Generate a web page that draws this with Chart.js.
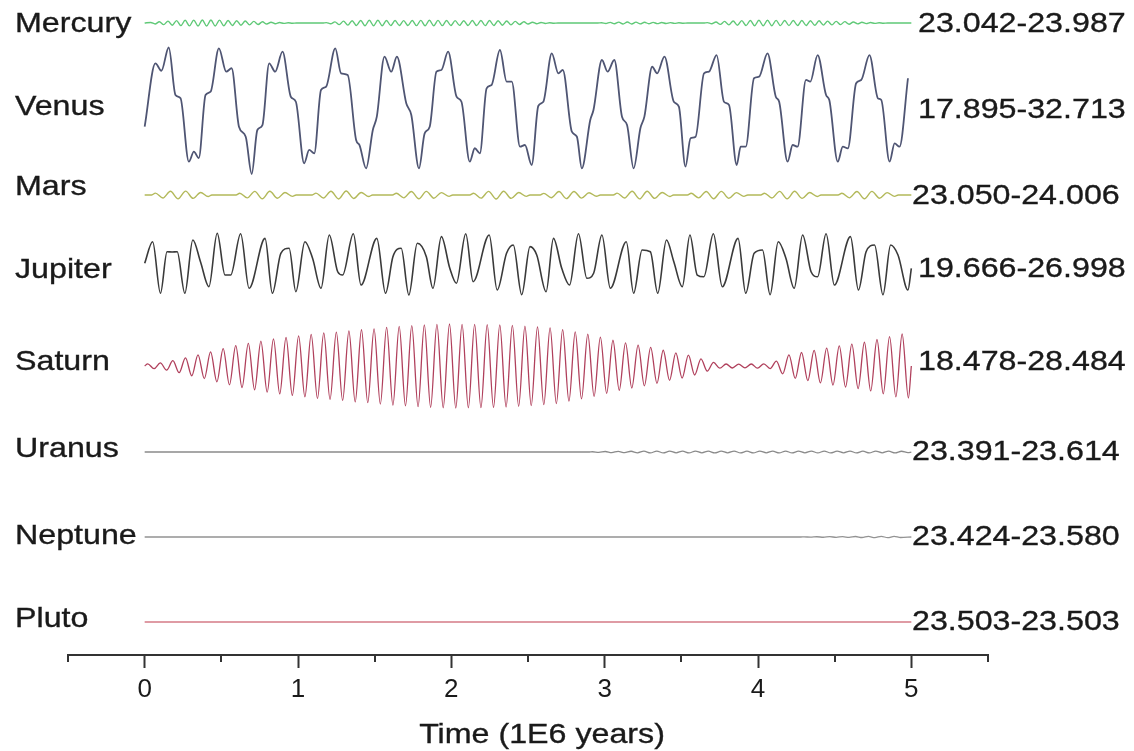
<!DOCTYPE html>
<html lang="en">
<head>
<meta charset="UTF-8">
<title>Obliquity of the planets over 5 Myr</title>
<script src="https://cdn.jsdelivr.net/npm/chart.js"></script>
<style>
  html, body { margin: 0; padding: 0; background: #ffffff; }
  #grafico { display: block; }
</style>
</head>
<body>
<canvas id="grafico" width="1134" height="751"></canvas>
<script>
// obliquity series, time in Myr, obliquity in degrees
const planets = ["Mercury", "Venus", "Mars", "Jupiter", "Saturn", "Uranus", "Neptune", "Pluto"];

const mercuryTime = [0,
  0.040, 0.068, 0.096, 0.124, 0.152, 0.180, 0.208, 0.236, 0.264, 0.292,
  0.320, 0.348, 0.376, 0.404, 0.432, 0.460, 0.488, 0.516, 0.544, 0.572,
  0.600, 0.628, 0.656, 0.684, 0.712, 0.740, 0.768, 0.796, 0.824, 0.852,
  0.880, 0.908, 0.936, 0.964,
  0.990, 1.160,
  1.185, 1.213, 1.241, 1.269, 1.297, 1.325, 1.353, 1.381, 1.409, 1.437,
  1.465, 1.493, 1.521, 1.549, 1.577, 1.605, 1.633, 1.661, 1.689, 1.717,
  1.745, 1.773, 1.801, 1.829, 1.857, 1.885, 1.913, 1.941, 1.969, 1.997,
  2.025, 2.053, 2.081, 2.109, 2.137, 2.165, 2.193, 2.221, 2.249, 2.277,
  2.305, 2.333, 2.361, 2.389, 2.417, 2.445, 2.473, 2.501, 2.529, 2.557,
  2.585, 2.613, 2.641, 2.669,
  2.695, 2.955,
  2.980, 3.008, 3.036, 3.064, 3.092, 3.120, 3.148, 3.176, 3.204, 3.232,
  3.260, 3.288, 3.316, 3.344, 3.372, 3.400, 3.428, 3.456, 3.484, 3.512,
  3.540, 3.645,
  3.670, 3.698, 3.726, 3.754, 3.782, 3.810, 3.838, 3.866, 3.894, 3.922,
  3.950, 3.978, 4.006, 4.034, 4.062, 4.090, 4.118, 4.146, 4.174, 4.202,
  4.230, 4.258, 4.286, 4.314, 4.342, 4.370, 4.398, 4.426, 4.454, 4.482,
  4.510, 4.538, 4.566, 4.594, 4.622, 4.650, 4.678, 4.706, 4.734, 4.762,
  4.790, 4.818,
  4.845, 5.0];
const mercuryObl = [23.51,
  23.59, 23.37, 23.71, 23.26, 23.81, 23.17, 23.88, 23.11, 23.93, 23.07,
  23.96, 23.05, 23.987, 23.042, 23.97, 23.06, 23.95, 23.09, 23.91, 23.13,
  23.87, 23.17, 23.82, 23.23, 23.76, 23.29, 23.70, 23.35, 23.64, 23.40,
  23.59, 23.45, 23.55, 23.48,
  23.51, 23.51,
  23.57, 23.39, 23.69, 23.27, 23.80, 23.18, 23.87, 23.13, 23.91, 23.10,
  23.93, 23.09, 23.93, 23.10, 23.91, 23.12, 23.89, 23.14, 23.88, 23.13,
  23.90, 23.11, 23.92, 23.09, 23.93, 23.09, 23.92, 23.11, 23.90, 23.13,
  23.88, 23.15, 23.87, 23.14, 23.89, 23.12, 23.91, 23.11, 23.90, 23.13,
  23.87, 23.17, 23.82, 23.23, 23.76, 23.29, 23.70, 23.35, 23.64, 23.40,
  23.60, 23.44, 23.56, 23.48,
  23.51, 23.51,
  23.55, 23.44, 23.61, 23.39, 23.65, 23.36, 23.66, 23.36, 23.65, 23.38,
  23.63, 23.40, 23.61, 23.42, 23.59, 23.44, 23.57, 23.46, 23.55, 23.48,
  23.51, 23.51,
  23.57, 23.40, 23.67, 23.30, 23.76, 23.22, 23.83, 23.16, 23.88, 23.12,
  23.91, 23.10, 23.93, 23.09, 23.93, 23.10, 23.92, 23.11, 23.91, 23.12,
  23.90, 23.13, 23.89, 23.14, 23.87, 23.16, 23.85, 23.19, 23.81, 23.23,
  23.77, 23.27, 23.72, 23.33, 23.67, 23.38, 23.62, 23.42, 23.58, 23.46,
  23.55, 23.48,
  23.51, 23.51];

const venusTime = [0, 0.070, 0.109, 0.157, 0.201, 0.234, 0.288, 0.321, 0.353, 0.397,
  0.430, 0.484, 0.532, 0.567, 0.615, 0.659, 0.698, 0.735, 0.768, 0.812,
  0.851, 0.899, 0.953, 0.986, 1.040, 1.073, 1.106, 1.150, 1.183, 1.243,
  1.281, 1.324, 1.379, 1.401, 1.444, 1.488, 1.514, 1.564, 1.608, 1.645,
  1.706, 1.739, 1.789, 1.826, 1.859, 1.903, 1.935, 1.979, 2.034, 2.066,
  2.120, 2.153, 2.186, 2.230, 2.262, 2.317, 2.361, 2.394, 2.448, 2.480,
  2.524, 2.567, 2.600, 2.655, 2.698, 2.727, 2.786, 2.819, 2.851, 2.906,
  2.927, 2.982, 3.019, 3.063, 3.113, 3.146, 3.189, 3.233, 3.259, 3.310,
  3.342, 3.390, 3.451, 3.484, 3.527, 3.560, 3.593, 3.648, 3.680, 3.730,
  3.778, 3.811, 3.861, 3.887, 3.920, 3.974, 4.007, 4.062, 4.116, 4.138,
  4.193, 4.226, 4.258, 4.313, 4.341, 4.389, 4.444, 4.465, 4.520, 4.553,
  4.586, 4.640, 4.673, 4.727, 4.782, 4.804, 4.858, 4.891, 4.923, 4.978];
const venusObl = [23.44, 30.86, 29.99, 32.713, 27.15, 26.76, 19.34, 20.51, 19.77, 27.15,
  27.54, 32.62, 29.88, 30.28, 23.44, 22.26, 17.895, 23.05, 23.63, 30.86,
  29.88, 32.22, 26.95, 26.36, 19.15, 20.71, 20.32, 27.73, 28.12, 32.62,
  29.69, 29.49, 21.88, 21.29, 18.56, 23.05, 24.61, 31.64, 29.88, 31.64,
  26.18, 24.81, 18.56, 22.66, 23.44, 29.88, 30.08, 32.22, 26.95, 26.36,
  19.34, 20.91, 20.32, 27.93, 28.32, 32.42, 28.71, 28.71, 21.09, 21.29,
  18.95, 25.86, 26.36, 32.03, 29.69, 30.08, 22.85, 22.26, 18.56, 24.22,
  25.39, 31.25, 29.88, 31.25, 24.61, 23.63, 18.56, 23.25, 24.61, 30.46,
  29.69, 31.64, 26.36, 25.78, 18.75, 22.08, 22.26, 29.69, 29.88, 31.83,
  26.36, 25.98, 18.95, 21.09, 21.09, 29.11, 29.29, 32.03, 26.95, 26.36,
  19.34, 21.29, 21.09, 28.91, 28.71, 31.83, 27.15, 26.56, 19.34, 21.09,
  20.90, 28.52, 28.91, 31.83, 26.76, 26.56, 19.34, 21.49, 21.09, 29.11];

const marsTime = [0,
  0.046, 0.070, 0.119, 0.168, 0.218, 0.267, 0.316, 0.365, 0.414, 0.438,
  0.596, 0.620, 0.669, 0.718, 0.767, 0.816, 0.866, 0.915, 0.964, 0.988,
  1.093, 1.117, 1.166, 1.215, 1.265, 1.314, 1.363, 1.412, 1.461, 1.486,
  1.616, 1.641, 1.690, 1.739, 1.788, 1.837, 1.886, 1.935, 1.985, 2.009,
  2.120, 2.145, 2.194, 2.243, 2.292, 2.341, 2.390, 2.440, 2.489, 2.513,
  2.579, 2.603, 2.652, 2.702, 2.751, 2.800, 2.849, 2.898, 2.947, 2.972,
  3.056, 3.081, 3.130, 3.179, 3.228, 3.277, 3.326, 3.375, 3.425, 3.449,
  3.540, 3.564, 3.613, 3.662, 3.711, 3.761, 3.810, 3.859, 3.908, 3.933,
  4.018, 4.042, 4.091, 4.141, 4.190, 4.239, 4.288, 4.337, 4.386, 4.411,
  4.522, 4.547, 4.596, 4.645, 4.694, 4.743, 4.792, 4.842, 4.891, 4.915,
  5.0];
const marsObl = [23.53,
  23.53, 23.75, 23.17, 23.97, 23.07, 23.99, 23.13, 23.83, 23.35, 23.53,
  23.53, 23.74, 23.18, 23.96, 23.08, 23.97, 23.14, 23.82, 23.36, 23.53,
  23.53, 23.75, 23.17, 23.97, 23.06, 24.006, 23.12, 23.83, 23.35, 23.53,
  23.53, 23.73, 23.19, 23.95, 23.09, 23.96, 23.15, 23.81, 23.37, 23.53,
  23.53, 23.74, 23.16, 23.96, 23.050, 23.98, 23.13, 23.82, 23.36, 23.53,
  23.53, 23.72, 23.20, 23.94, 23.10, 23.95, 23.16, 23.80, 23.38, 23.53,
  23.53, 23.75, 23.17, 23.97, 23.07, 23.98, 23.13, 23.83, 23.35, 23.53,
  23.53, 23.73, 23.18, 23.95, 23.09, 23.96, 23.14, 23.81, 23.36, 23.53,
  23.53, 23.74, 23.17, 23.96, 23.08, 23.97, 23.13, 23.82, 23.35, 23.53,
  23.53, 23.73, 23.19, 23.95, 23.09, 23.96, 23.15, 23.81, 23.37, 23.53,
  23.53];

const jupiterTime = [0, 0.052, 0.103, 0.146, 0.179, 0.212, 0.262, 0.314, 0.364, 0.419,
  0.473, 0.524, 0.561, 0.626, 0.681, 0.785, 0.833, 0.888, 0.942, 0.986,
  1.045, 1.095, 1.150, 1.204, 1.259, 1.291, 1.361, 1.411, 1.514, 1.571,
  1.619, 1.673, 1.723, 1.778, 1.837, 1.880, 1.935, 1.990, 2.033, 2.094,
  2.142, 2.247, 2.299, 2.360, 2.404, 2.459, 2.513, 2.557, 2.618, 2.666,
  2.720, 2.771, 2.829, 2.884, 2.928, 2.982, 3.037, 3.141, 3.189, 3.244,
  3.298, 3.346, 3.403, 3.451, 3.506, 3.556, 3.604, 3.647, 3.709, 3.767,
  3.870, 3.920, 3.975, 4.029, 4.079, 4.132, 4.182, 4.236, 4.291, 4.346,
  4.389, 4.444, 4.498, 4.603, 4.655, 4.705, 4.760, 4.815, 4.865, 4.913,
  4.978, 5.0];
const jupiterObl = [23.43, 26.00, 19.87, 24.81, 24.77, 24.81, 19.87, 26.20, 23.62, 20.65,
  26.998, 22.04, 22.04, 26.95, 20.46, 26.40, 19.87, 24.62, 25.22, 20.06,
  26.00, 24.03, 20.46, 26.80, 22.43, 22.04, 26.95, 20.85, 26.40, 19.87,
  24.22, 25.22, 19.666, 25.81, 24.22, 20.46, 26.60, 22.84, 21.06, 26.95,
  21.25, 26.80, 20.26, 24.62, 25.61, 19.70, 25.41, 24.42, 20.06, 26.40,
  22.84, 20.85, 26.95, 21.65, 22.25, 26.80, 20.46, 26.00, 19.87, 25.01,
  24.81, 19.87, 26.20, 23.62, 20.65, 26.80, 22.04, 21.84, 26.95, 20.65,
  26.40, 19.87, 24.62, 25.01, 19.70, 26.00, 24.03, 20.46, 26.80, 22.43,
  21.84, 26.95, 20.85, 26.60, 20.26, 24.81, 25.61, 19.70, 25.61, 24.42,
  20.26, 22.84];

const saturnTime = [0,
  0.020, 0.061, 0.102, 0.143, 0.184, 0.225, 0.266, 0.307, 0.348, 0.389,
  0.430, 0.471, 0.512, 0.553, 0.594, 0.635, 0.676, 0.717, 0.758, 0.799,
  0.840, 0.881, 0.922, 0.963, 1.004, 1.045, 1.086, 1.127, 1.168, 1.209,
  1.250, 1.291, 1.332, 1.373, 1.414, 1.455, 1.496, 1.537, 1.578, 1.619,
  1.660, 1.701, 1.742, 1.783, 1.824, 1.865, 1.906, 1.947, 1.988, 2.029,
  2.070, 2.111, 2.152, 2.193, 2.234, 2.275, 2.316, 2.357, 2.398, 2.439,
  2.480, 2.521, 2.562, 2.603, 2.644, 2.685, 2.726, 2.767, 2.808, 2.849,
  2.890, 2.931, 2.972, 3.013, 3.054, 3.095, 3.136, 3.177, 3.218, 3.259,
  3.300, 3.341, 3.382, 3.423, 3.464, 3.505, 3.546, 3.587, 3.628, 3.669,
  3.710, 3.751, 3.792, 3.833, 3.874, 3.915, 3.956, 3.997, 4.038, 4.079,
  4.120, 4.161, 4.202, 4.243, 4.284, 4.325, 4.366, 4.407, 4.448, 4.489,
  4.530, 4.571, 4.612, 4.653, 4.694, 4.735, 4.776, 4.817, 4.858, 4.899,
  4.940, 4.981,
  5.0];
const saturnObl = [23.48,
  23.74, 23.16, 23.85, 22.99, 24.11, 22.68, 24.46, 22.32, 24.81, 21.98,
  25.16, 21.60, 25.54, 21.24, 25.90, 20.92, 26.17, 20.65, 26.45, 20.37,
  26.72, 20.16, 26.89, 19.98, 27.07, 19.81, 27.24, 19.62, 27.42, 19.50,
  27.51, 19.38, 27.66, 19.20, 27.80, 19.11, 27.90, 18.95, 28.09, 18.81,
  28.20, 18.73, 28.28, 18.63, 28.38, 18.56, 28.44, 18.51, 28.484, 18.478,
  28.45, 18.51, 28.45, 18.52, 28.42, 18.55, 28.39, 18.60, 28.32, 18.68,
  28.23, 18.77, 28.15, 18.87, 28.03, 19.01, 27.82, 19.29, 27.54, 19.56,
  27.28, 19.86, 26.92, 20.23, 26.55, 20.59, 26.23, 20.86, 25.97, 21.12,
  25.71, 21.42, 25.36, 21.78, 25.05, 22.05, 24.77, 22.41, 24.33, 22.86,
  23.91, 23.22, 23.72, 23.24, 23.70, 23.26, 23.72, 23.22, 23.74, 23.18,
  24.06, 22.55, 24.81, 22.00, 25.09, 21.74, 25.35, 21.47, 25.61, 21.22,
  25.87, 20.98, 26.08, 20.79, 26.31, 20.51, 26.64, 20.17, 26.97, 19.81,
  27.29, 19.67,
  23.48];

const uranusTime = [0, 2.900,
  2.920, 2.962, 3.004, 3.046, 3.088, 3.130, 3.172, 3.214, 3.256, 3.298,
  3.340, 3.382, 3.424, 3.466, 3.508, 3.550, 3.592, 3.634, 3.676, 3.718,
  3.760, 3.802, 3.844, 3.886, 3.928, 3.970, 4.012, 4.054, 4.096, 4.138,
  4.180, 4.222, 4.264, 4.306, 4.348, 4.390, 4.432, 4.474, 4.516, 4.558,
  4.600, 4.642, 4.684, 4.726, 4.768, 4.810, 4.852, 4.894, 4.936, 4.978,
  5.0];
const uranusObl = [23.50, 23.50,
  23.53, 23.45, 23.56, 23.43, 23.58, 23.42, 23.59, 23.41, 23.60, 23.40,
  23.61, 23.40, 23.60, 23.41, 23.60, 23.40, 23.61, 23.41, 23.60, 23.40,
  23.60, 23.41, 23.61, 23.40, 23.60, 23.40, 23.61, 23.41, 23.60, 23.40,
  23.61, 23.40, 23.60, 23.41, 23.614, 23.391, 23.61, 23.40, 23.60, 23.41,
  23.61, 23.40, 23.60, 23.40, 23.61, 23.41, 23.60, 23.40, 23.59, 23.42,
  23.50];

const neptuneTime = [0, 4.280,
  4.300, 4.342, 4.384, 4.426, 4.468, 4.510, 4.552, 4.594, 4.636, 4.678,
  4.720, 4.762, 4.804, 4.846, 4.888, 4.930,
  5.0];
const neptuneObl = [23.50, 23.50,
  23.52, 23.48, 23.53, 23.47, 23.54, 23.46, 23.55, 23.45, 23.56, 23.44,
  23.57, 23.43, 23.580, 23.424, 23.57, 23.44,
  23.50];

const plutoTime = [0, 5.0];
const plutoObl  = [23.503, 23.503];

const seriesTime = [mercuryTime, venusTime, marsTime, jupiterTime, saturnTime, uranusTime, neptuneTime, plutoTime];
const seriesObl  = [mercuryObl, venusObl, marsObl, jupiterObl, saturnObl, uranusObl, neptuneObl, plutoObl];

const xTicks = [0, 1, 2, 3, 4, 5];
const xMinorTicks = [-0.5, 0.5, 1.5, 2.5, 3.5, 4.5, 5.5];
const axisTitle = "Time (1E6 years)";

// layout: each planet gets its own hidden y axis placed at a row of the plot
const plotHeight = 655;
const rowCenter = [23, 110.75, 195, 264.15, 366, 452, 537, 622];
const rowScale  = [6.5, 8.537, 8.4, 8.415, 8.395, 8.4, 8.4, 8.4];   // px per degree
const colors = ["#5fc977", "#4f5573", "#b3b95a", "#3a3a3a", "#b0405c", "#8a8a8a", "#939393", "#d47a86"];
const widths = [1.4, 1.8, 1.4, 1.6, 1.3, 1.3, 1.3, 1.4];

const nameX = 15;
const nameY = [24, 107, 187, 270, 362, 449, 536, 619];
const rangeX = [918, 918, 912, 918, 918, 912, 912, 912];
const rangeY = [24, 110, 196, 269, 362, 452, 537, 622];
const titleX = 542, titleY = 735;
const textStretch = 1.15;
const fontFamily = '"Liberation Sans", Arial, sans-serif';
const textColor = "#1a1a1a";
const axisColor = "#333333";

const ranges = seriesObl.map(v => [Math.min(...v), Math.max(...v)]);
const rangeText = ranges.map(r => r[0].toFixed(3) + "-" + r[1].toFixed(3));

function drawStretched(ctx, text, x, y, align) {
  ctx.save();
  ctx.translate(x, y);
  ctx.scale(textStretch, 1);
  ctx.textAlign = align;
  ctx.fillText(text, 0, 0);
  ctx.strokeText(text, 0, 0);
  ctx.restore();
}

// planet names, min-max labels, minor ticks and the axis title
const decorations = {
  id: "decorations",
  afterDraw(chart) {
    const ctx = chart.ctx;
    const xs = chart.scales.x;
    const axisY = chart.chartArea.bottom;
    ctx.save();
    ctx.strokeStyle = axisColor;
    ctx.lineWidth = 2;
    xMinorTicks.forEach(v => {
      const px = Math.round(xs.getPixelForValue(v));
      ctx.beginPath();
      ctx.moveTo(px, axisY);
      ctx.lineTo(px, axisY + 7);
      ctx.stroke();
    });
    ctx.fillStyle = textColor;
    ctx.strokeStyle = textColor;
    ctx.lineWidth = 0.35;
    ctx.font = "28px " + fontFamily;
    ctx.textBaseline = "middle";
    planets.forEach((name, i) => {
      drawStretched(ctx, name, nameX, nameY[i], "left");
      drawStretched(ctx, rangeText[i], rangeX[i], rangeY[i], "left");
    });
    drawStretched(ctx, axisTitle, titleX, titleY, "center");
    ctx.restore();
  }
};

const scales = {
  x: {
    type: "linear",
    position: "bottom",
    min: -0.5,
    max: 5.5,
    afterBuildTicks: axis => { axis.ticks = xTicks.map(v => ({ value: v })); },
    afterFit: axis => { axis.height = 96; },
    border: { display: true, color: axisColor, width: 2 },
    grid: { display: true, drawOnChartArea: false, drawTicks: true, tickLength: 13, tickWidth: 2, tickColor: axisColor },
    ticks: { color: textColor, font: { family: fontFamily, size: 26 }, padding: 6, maxRotation: 0, autoSkip: false }
  }
};

planets.forEach((name, i) => {
  const mid = (ranges[i][0] + ranges[i][1]) / 2;
  const max = mid + rowCenter[i] / rowScale[i];
  scales["y" + i] = { type: "linear", display: false, min: max - plotHeight / rowScale[i], max: max };
});

const datasets = planets.map((name, i) => ({
  label: name,
  data: seriesTime[i].map((t, j) => ({ x: t, y: seriesObl[i][j] })),
  xAxisID: "x",
  yAxisID: "y" + i,
  borderColor: colors[i],
  borderWidth: widths[i],
  pointRadius: 0,
  fill: false,
  cubicInterpolationMode: "monotone"
}));

new Chart(document.getElementById("grafico"), {
  type: "line",
  data: { datasets: datasets },
  options: {
    responsive: false,
    animation: false,
    layout: { padding: { left: 68, right: 146, top: 0, bottom: 0 } },
    plugins: { legend: { display: false }, tooltip: { enabled: false } },
    scales: scales
  },
  plugins: [decorations]
});
</script>
</body>
</html>
